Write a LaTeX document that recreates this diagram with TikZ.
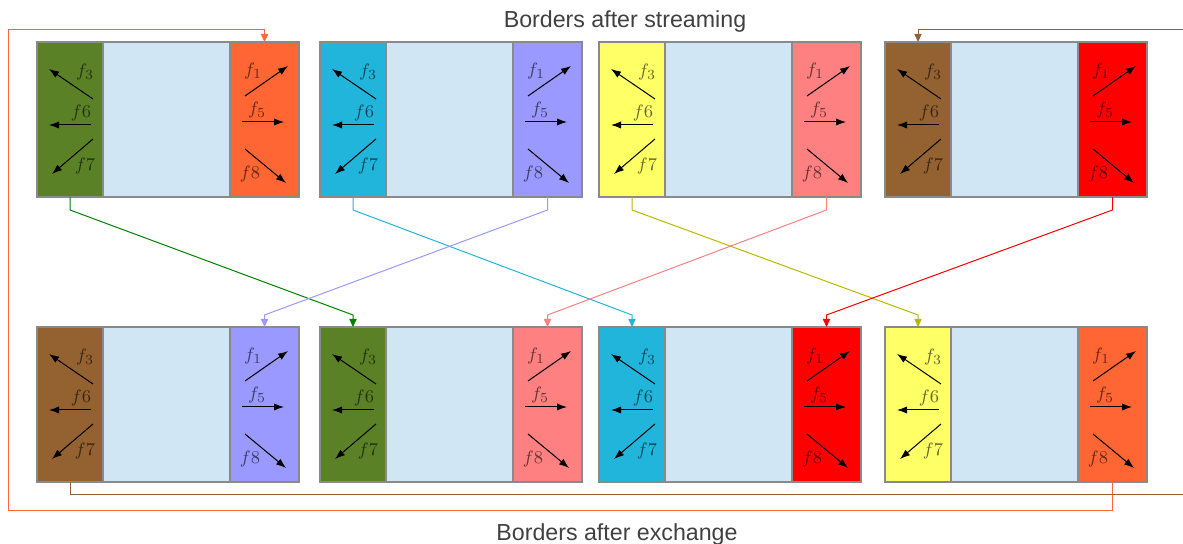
\documentclass[tikz,border=0pt]{standalone}
\usepackage{fontspec}
\setsansfont{Liberation Sans}
\usetikzlibrary{arrows.meta,positioning,calc}
\definecolor{framegray}{HTML}{8A8A8A}
\definecolor{cellblue}{HTML}{D0E6F4}
\definecolor{leafgreen}{HTML}{5B8126}
\definecolor{orangeR}{HTML}{FF6633}
\definecolor{cyanL}{HTML}{22B5DC}
\definecolor{lilac}{HTML}{9999FF}
\definecolor{lemon}{HTML}{FFFF66}
\definecolor{salmon}{HTML}{FF8080}
\definecolor{brownL}{HTML}{946131}
\definecolor{redR}{HTML}{FF0000}
\definecolor{olive}{HTML}{B8B800}
\definecolor{darkgreen}{HTML}{008000}
\definecolor{titlegray}{HTML}{404040}

\tikzset{
  strip/.style={draw=framegray, line width=0.7pt, minimum height=77.5pt,
    inner sep=0pt, outer sep=0pt, anchor=north west},
  flow/.style={-{Latex[length=5pt,width=3.6pt]}, line width=0.5pt},
  flowlabel/.style={text=black, text opacity=0.6, inner sep=0pt,
    font=\fontsize{9.5}{11}\selectfont},
  link/.style={-{Triangle[length=4pt,width=3.6pt]}, line width=0.5pt},
  heading/.style={font=\sffamily\fontsize{11.6}{14}\selectfont, text=titlegray}
}

% populations leaving through the left border
\newcommand{\leftflows}[1]{%
  \begin{scope}[shift={(#1.north west)}]
    \draw[flow] (56,57) -- (12,27);
    \draw[flow] (54,83) -- (12,83);
    \draw[flow] (56,97) -- (15,132);
    \node[flowlabel] at (48,30) {$f_3$};
    \node[flowlabel] at (44,71) {$f6$};
    \node[flowlabel] at (48,124) {$f7$};
  \end{scope}}

% populations leaving through the right border
\newcommand{\rightflows}[1]{%
  \begin{scope}[shift={(#1.north west)}]
    \draw[flow] (15,54) -- (58,24);
    \draw[flow] (12,80) -- (54,80);
    \draw[flow] (15,107) -- (56,141);
    \node[flowlabel] at (23,29) {$f_1$};
    \node[flowlabel] at (27,68) {$f_5$};
    \node[flowlabel] at (20,132) {$f8$};
  \end{scope}}

\begin{document}
\begin{tikzpicture}[x=0.5pt,y=-0.5pt]
  \useasboundingbox (0,0) rectangle (1183,544);

  \node[heading] (streamtitle) at (625,22) {Borders after streaming};
  \node[heading] (exchtitle) at (617,535) {Borders after exchange};

  % one subdomain per column: left border, interior, right border
  \foreach \x/\ctl/\ctr/\cbl/\cbr [count=\i] in
      {37/leafgreen/orangeR/brownL/lilac,
       320/cyanL/lilac/leafgreen/salmon,
       599/lemon/salmon/cyanL/redR,
       885/brownL/redR/lemon/orangeR} {
    % after streaming
    \node[strip, minimum width=33pt, fill=\ctl] (tl\i) at (\x,42) {};
    \node[strip, minimum width=63.5pt, fill=cellblue, right=0pt of tl\i] (tm\i) {};
    \node[strip, minimum width=34.5pt, fill=\ctr, right=0pt of tm\i] (tr\i) {};
    % after exchange
    \node[strip, minimum width=33pt, fill=\cbl] (bl\i) at (\x,327) {};
    \node[strip, minimum width=63.5pt, fill=cellblue, right=0pt of bl\i] (bm\i) {};
    \node[strip, minimum width=34.5pt, fill=\cbr, right=0pt of bm\i] (br\i) {};
    \leftflows{tl\i}
    \rightflows{tr\i}
    \leftflows{bl\i}
    \rightflows{br\i}
  }

  % exchange between neighbouring subdomains
  \draw[link, darkgreen] (tl1.south) -- ++(0,13) -- ($(bl2.north)+(0,-12)$) -- (bl2.north);
  \draw[link, cyanL] (tl2.south) -- ++(0,13) -- ($(bl3.north)+(0,-12)$) -- (bl3.north);
  \draw[link, olive] (tl3.south) -- ++(0,13) -- ($(bl4.north)+(0,-12)$) -- (bl4.north);
  \draw[link, lilac] (tr2.south) -- ++(0,13) -- ($(br1.north)+(0,-12)$) -- (br1.north);
  \draw[link, salmon] (tr3.south) -- ++(0,13) -- ($(br2.north)+(0,-12)$) -- (br2.north);
  \draw[link, redR] (tr4.south) -- ++(0,13) -- ($(br3.north)+(0,-12)$) -- (br3.north);

  % periodic wrap-around
  \coordinate (wrapout) at (1183,495);
  \coordinate (wrapin) at (1183,30);
  \draw[link, orangeR] (br4.south) -- ++(0,29) -| (8,30) -| (tr1.north);
  \draw[line width=0.5pt, brownL] (bl1.south) |- (wrapout);
  \draw[link, brownL] (wrapin) -| (tl4.north);
\end{tikzpicture}
\end{document}
